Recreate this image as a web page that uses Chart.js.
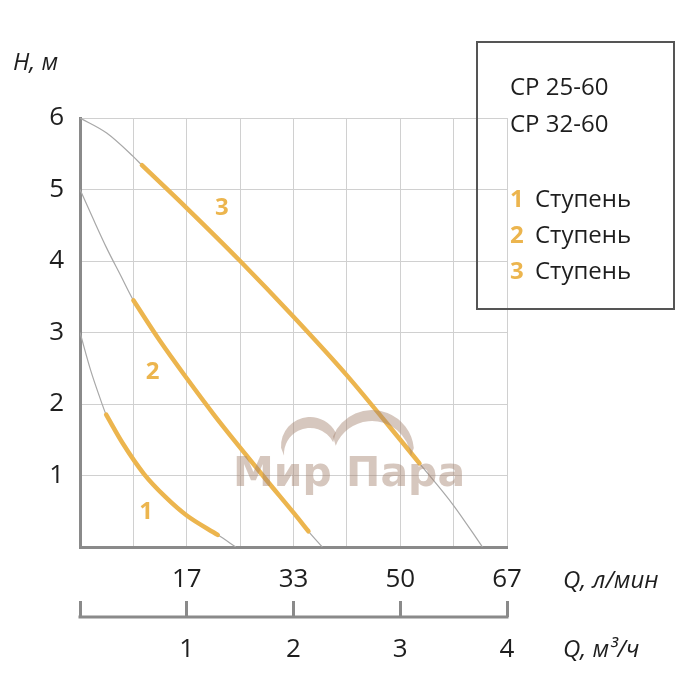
<!DOCTYPE html>
<html lang="ru">
<head>
<meta charset="UTF-8">
<title>CP 25-60 / CP 32-60</title>
<script src="https://cdn.jsdelivr.net/npm/chart.js"></script>
<style>
body{margin:0;background:#fff;}
canvas{display:block;}
</style>
</head>
<body>
<canvas id="pump" width="700" height="700"></canvas>
<script>
/* ---------- data ---------- */
const headTicks  = [0,1,2,3,4,5,6];                 // H, м
const headLabels = ["","1","2","3","4","5","6"];
const gridQ      = [0,0.5,1,1.5,2,2.5,3,3.5,4];     // м³/ч, grid lines
const flowM3h    = [1,2,3,4];                       // lower scale labels
const flowLmin   = ["17","33","50","67"];           // upper scale labels

// max curves (thin grey), Q in м³/ч, H in м
const max1Q = [0,0.1,0.2,0.245,0.4,0.6,0.8,1.0,1.29,1.46];
const max1H = [3,2.47,2.03,1.85,1.45,1.02,0.7,0.44,0.17,0];
const max2Q = [0,0.12,0.25,0.38,0.5,0.75,1.0,1.25,1.5,1.75,2.0,2.14,2.27];
const max2H = [5,4.6,4.18,3.8,3.45,2.88,2.36,1.86,1.39,0.93,0.48,0.22,0];
const max3Q = [0,0.25,0.5,0.58,1.0,1.5,2.0,2.5,3.0,3.18,3.5,3.77];
const max3H = [6,5.79,5.46,5.34,4.74,4.0,3.22,2.4,1.5,1.17,0.58,0];

// working ranges (yellow)
const step1Q = [0.245,0.4,0.6,0.8,1.0,1.29];
const step1H = [1.85,1.45,1.02,0.7,0.44,0.17];
const step2Q = [0.5,0.75,1.0,1.25,1.5,1.75,2.0,2.14];
const step2H = [3.45,2.88,2.36,1.86,1.39,0.93,0.48,0.22];
const step3Q = [0.58,1.0,1.5,2.0,2.5,3.0,3.18];
const step3H = [5.34,4.74,4.0,3.22,2.4,1.5,1.17];

// stage number labels on the plot
const stageNames  = ["1","2","3"];
const stageLabelQ = [0.62,0.68,1.33];
const stageLabelH = [0.49,2.45,4.74];

const modelNames = ["CP 25-60","CP 32-60"];
const stageWord  = "Ступень";

/* ---------- style ---------- */
const FONT  = "'Open Sans','DejaVu Sans',sans-serif";
const GOLD  = "#ecb54e";
const GREY  = "#a8a8a8";
const AXIS  = "#8a8a8a";
const GRID  = "#d0d0d0";
const INK   = "#1e1e1e";

const pts = (qs,hs)=>qs.map((q,i)=>({x:q,y:hs[i]}));

const maxLine  = (qs,hs)=>({data:pts(qs,hs),borderColor:GREY,borderWidth:1.2,pointRadius:0,
                            cubicInterpolationMode:"monotone",order:2});
const stepLine = (qs,hs)=>({data:pts(qs,hs),borderColor:GOLD,borderWidth:4.5,pointRadius:0,
                            cubicInterpolationMode:"monotone",order:1,borderCapStyle:"round"});

/* ---------- extra drawing ---------- */
const decor={
    id:"decor",
    afterDatasetsDraw(chart){
        const {ctx,scales:{x,y}}=chart;
        ctx.save();
        // watermark
        ctx.fillStyle="rgba(165,130,110,0.45)";
        ctx.beginPath();
        ctx.arc(310,446,29,Math.PI*0.98,Math.PI*1.85);
        ctx.arc(310,454,26,Math.PI*1.85,Math.PI*0.98,true);
        ctx.fill();
        ctx.beginPath();
        ctx.arc(372,452,42,Math.PI*1.12,Math.PI*1.97);
        ctx.arc(372,460,39,Math.PI*1.97,Math.PI*1.12,true);
        ctx.fill();
        ctx.font="bold 41px 'DejaVu Sans',sans-serif";
        ctx.textAlign="center";ctx.textBaseline="alphabetic";
        ctx.fillText("Мир Пара",349,486);
        // stage numbers
        ctx.fillStyle=GOLD;
        ctx.font="bold 24px "+FONT;
        ctx.textBaseline="middle";
        stageNames.forEach((s,i)=>{
            ctx.fillText(s,x.getPixelForValue(stageLabelQ[i]),y.getPixelForValue(stageLabelH[i]));
        });
        ctx.restore();
    },
    afterDraw(chart){
        const {ctx,scales:{x2}}=chart;
        ctx.save();
        // lower scale base line
        const ly=x2.top+16;
        ctx.strokeStyle=AXIS;ctx.lineWidth=3;
        ctx.beginPath();
        ctx.moveTo(x2.getPixelForValue(0)-1.5,ly);
        ctx.lineTo(x2.getPixelForValue(4)+1.5,ly);
        ctx.stroke();
        // axis titles
        ctx.fillStyle=INK;
        ctx.font="italic 24px "+FONT;
        ctx.textAlign="left";ctx.textBaseline="alphabetic";
        ctx.fillText("H, м",13,70);
        ctx.fillText("Q, л/мин",563,588);
        ctx.fillText("Q, м³/ч",563,657);
        // legend box
        ctx.strokeStyle="#555";ctx.lineWidth=2;
        ctx.strokeRect(477,42,197,267);
        ctx.font="24px "+FONT;
        modelNames.forEach((m,i)=>ctx.fillText(m,510,95+i*37));
        stageNames.forEach((s,i)=>{
            const by=207+i*36;
            ctx.fillStyle=GOLD;ctx.font="bold 24px "+FONT;
            ctx.fillText(s,510,by);
            ctx.fillStyle=INK;ctx.font="24px "+FONT;
            ctx.fillText(stageWord,535,by);
        });
        ctx.restore();
    }
};

/* ---------- chart ---------- */
new Chart(document.getElementById("pump"),{
    type:"line",
    data:{datasets:[
        stepLine(step1Q,step1H),stepLine(step2Q,step2H),stepLine(step3Q,step3H),
        maxLine(max1Q,max1H),maxLine(max2Q,max2H),maxLine(max3Q,max3H)
    ]},
    options:{
        animation:false,responsive:false,devicePixelRatio:1,
        layout:{padding:{left:0,top:118,right:193,bottom:29}},
        plugins:{legend:{display:false},tooltip:{enabled:false}},
        scales:{
            y:{
                type:"linear",min:0,max:6,
                afterBuildTicks:ax=>{ax.ticks=headTicks.map(v=>({value:v}));},
                afterFit:ax=>{ax.width=80;},
                ticks:{font:{family:FONT,size:26},color:INK,padding:16,
                       callback:v=>headLabels[headTicks.indexOf(v)]},
                grid:{color:GRID,drawTicks:false},
                border:{color:AXIS,width:3}
            },
            x:{
                type:"linear",min:0,max:4,position:"bottom",
                afterBuildTicks:ax=>{ax.ticks=gridQ.map(v=>({value:v}));},
                afterFit:ax=>{ax.height=54;},
                ticks:{font:{family:FONT,size:26},color:INK,padding:17,autoSkip:false,maxRotation:0,
                       callback:v=>{const i=flowM3h.indexOf(v);return i<0?"":flowLmin[i];}},
                grid:{color:GRID,drawTicks:false},
                border:{color:AXIS,width:3}
            },
            x2:{
                type:"linear",min:0,max:4,position:"bottom",
                afterBuildTicks:ax=>{ax.ticks=[0].concat(flowM3h).map(v=>({value:v}));},
                afterFit:ax=>{ax.height=70;},
                ticks:{font:{family:FONT,size:26},color:INK,padding:17,autoSkip:false,maxRotation:0,
                       callback:v=>flowM3h.includes(v)?String(v):""},
                grid:{drawOnChartArea:false,drawTicks:true,tickLength:16,color:AXIS,lineWidth:3},
                border:{display:false}
            }
        }
    },
    plugins:[decor]
});
</script>
</body>
</html>
